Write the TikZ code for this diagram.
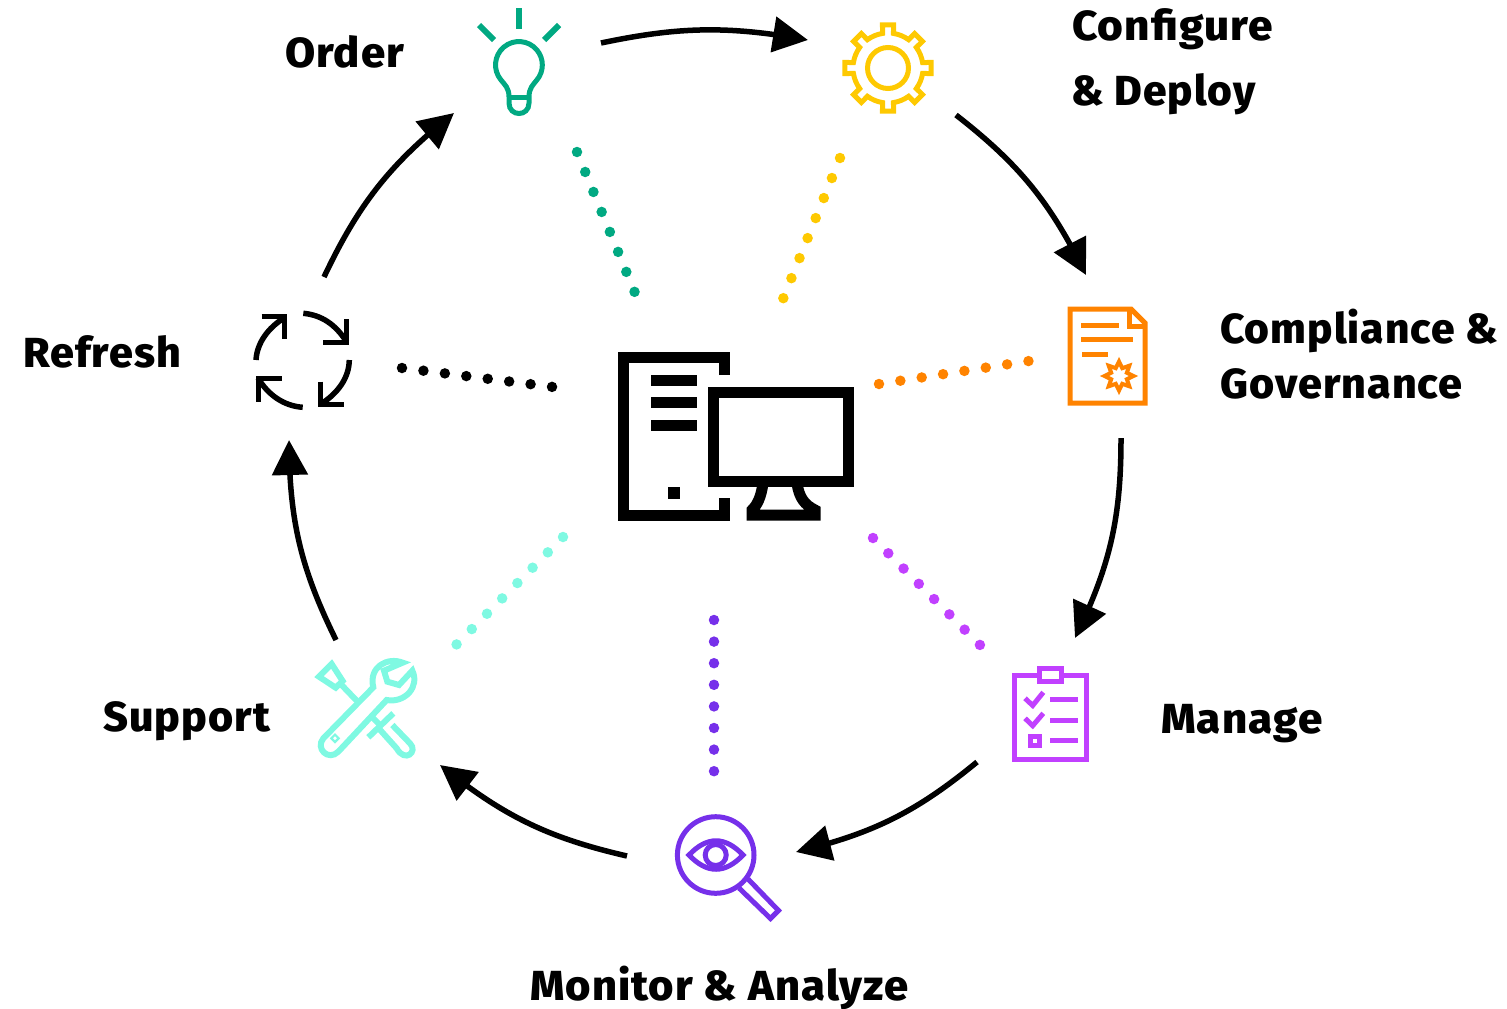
\documentclass[tikz,border=0pt]{standalone}
\usepackage{fontspec}
\setmainfont{Fira Sans}[BoldFont={Fira Sans ExtraBold},BoldFeatures={LetterSpace=2.5}]
\usetikzlibrary{arrows.meta,bending}
\definecolor{cteal}{HTML}{01A982}
\definecolor{cyellow}{HTML}{FEC901}
\definecolor{corange}{HTML}{FF8300}
\definecolor{cmagenta}{HTML}{C140FF}
\definecolor{cpurple}{HTML}{7630EA}
\definecolor{caqua}{HTML}{7FF9E2}
\tikzset{
  cyclearrow/.style={line width=5.5pt,-{Triangle[length=35pt,width=35pt,flex]}},
  dots/.style={line width=10.5pt,line cap=round,dash pattern=on 0pt off 21.6pt},
  lab/.style={font=\fontsize{42}{55}\selectfont\bfseries,inner sep=0pt,text=black,anchor=base west,transform shape,xscale=#1},
  ico/.style={line width=5pt,miter limit=10},
}
\begin{document}
\begin{tikzpicture}[x=1pt,y=-1pt]
\useasboundingbox (0,0) rectangle (1507,1009);
% labels
\node[lab=1.04] (order) at (285,67) {Order};
\node[lab=1.05] (conf1) at (1072,40) {Configure};
\node[lab=1.01] (conf2) at (1071,105) {\& Deploy};
\node[lab=1.012] (comp1) at (1220,343) {Compliance \&};
\node[lab=1.025] (comp2) at (1220,398) {Governance};
\node[lab=1.045] (manage) at (1161,733) {Manage};
\node[lab=1.035] (monitor) at (530,1000) {Monitor \& Analyze};
\node[lab=1.025] (support) at (103,731) {Support};
\node[lab=1.025] (refresh) at (23,367) {Refresh};
% arrow ends
\coordinate (a1s) at (601,43);  \coordinate (a1e) at (808,40);
\coordinate (a2s) at (956,115); \coordinate (a2e) at (1086,275);
\coordinate (a3s) at (1121,438);\coordinate (a3e) at (1075,638);
\coordinate (a4s) at (977,762); \coordinate (a4e) at (796,852);
\coordinate (a5s) at (627,856); \coordinate (a5e) at (440,765);
\coordinate (a6s) at (336,640); \coordinate (a6e) at (289,440);
\coordinate (a7s) at (324,277); \coordinate (a7e) at (454,113);
\draw[cyclearrow] (a1s) to[bend left=11] (a1e);
\draw[cyclearrow] (a2s) to[bend left=13] (a2e);
\draw[cyclearrow] (a3s) to[bend left=13] (a3e);
\draw[cyclearrow] (a4s) to[bend left=13] (a4e);
\draw[cyclearrow] (a5s) to[bend left=13] (a5e);
\draw[cyclearrow] (a6s) to[bend left=13] (a6e);
\draw[cyclearrow] (a7s) to[bend left=13] (a7e);
% dotted rays
\coordinate (d1a) at (577,152); \coordinate (d1b) at (635,293);
\coordinate (d2a) at (840,158); \coordinate (d2b) at (783,299);
\coordinate (d3a) at (879,384); \coordinate (d3b) at (1029,361);
\coordinate (d4a) at (873,538); \coordinate (d4b) at (981,646);
\coordinate (d5a) at (714,620); \coordinate (d5b) at (714,772);
\coordinate (d6a) at (563,537); \coordinate (d6b) at (456,645);
\coordinate (d7a) at (402,368); \coordinate (d7b) at (553,387);
\draw[dots,cteal] (d1a) -- (d1b);
\draw[dots,cyellow] (d2a) -- (d2b);
\draw[dots,corange] (d3a) -- (d3b);
\draw[dots,cmagenta] (d4a) -- (d4b);
\draw[dots,cpurple] (d5a) -- (d5b);
\draw[dots,caqua] (d6a) -- (d6b);
\draw[dots,black] (d7a) -- (d7b);
% bulb
\begin{scope}[ico,cteal]
\draw[line width=6pt] (519,8) -- (519,29);
\draw[line width=6pt] (479,25) -- (494,40);
\draw[line width=6pt] (559,25) -- (544,40);
\draw (509,97) .. controls (509,88) and (505,85) .. (501,80)
  arc[start angle=140,end angle=400,radius=23.4]
  .. controls (533,85) and (529,88) .. (529,97) -- (529,103)
  .. controls (529,117) and (509,117) .. (509,103) -- cycle;
\draw (509,97) -- (529,97);
\end{scope}
% gear
\begin{scope}[ico,cyellow,shift={(888,68)}]
\draw (0,0) circle[radius=20.5];
\draw (-9:35) \foreach \a in {0,45,...,315}{
   -- (\a-7.3:43.5) -- (\a+7.3:43.5) -- (\a+9:35)
   arc[start angle=\a+9,end angle=\a+36,radius=35] } -- cycle;
\end{scope}
% document
\begin{scope}[ico,corange]
\draw (1070,309) -- (1131,309) -- (1145,323) -- (1145,403) -- (1070,403) -- cycle;
\draw (1129.5,309) -- (1129.5,326) -- (1145,326);
\draw (1081,325.5) -- (1119,325.5);
\draw (1081,339.7) -- (1133,339.7);
\draw (1082,354.3) -- (1108,354.3);
\draw[line width=4pt,shift={(1119,376)}] (0:14.5)
  \foreach \a in {22.5,45,...,337.5}{ -- (\a:{mod(round(\a/22.5),2)==1 ? 8.5 : 14.5}) } -- cycle;
\end{scope}
% clipboard
\begin{scope}[ico,cmagenta]
\draw (1014.5,675) rectangle (1086.5,759);
\draw[fill=white] (1039.5,668) rectangle (1061.5,681);
\draw (1025,698.3) -- (1032.7,705.5) -- (1043.3,692.3);
\draw (1025,718.3) -- (1032.7,725.7) -- (1043.3,713.3);
\draw (1050,699.3) -- (1078,699.3);
\draw (1050,720.3) -- (1078,720.3);
\draw (1050,740.3) -- (1078,740.3);
\draw (1030,736.5) rectangle (1039,745.5);
\end{scope}
% magnifier
\begin{scope}[ico,cpurple]
\draw (715.7,855) circle[radius=38.3];
\draw (689,855) .. controls (707,836) and (725,836) .. (743,855)
  .. controls (725,874) and (707,874) .. (689,855) -- cycle;
\draw (715.7,855) circle[radius=10.5];
\draw (748,879) -- (778.5,910.5) -- (770.5,918.5) -- (739,888);
\end{scope}
% tools
\begin{scope}[ico,line width=6pt,caqua,shift={(305,650)},x=0.3333pt,y=-0.3333pt]
\draw (293,38) .. controls (248,20) and (190,50) .. (205,112)
  -- (55,265) .. controls (30,295) and (70,335) .. (100,305)
  -- (245,150) .. controls (300,160) and (345,110) .. (322,62)
  -- (282,105) -- (247,95) -- (237,62) -- cycle;
\draw[line width=2.2pt] (90,254) -- (101,265) -- (90,276) -- (79,265) -- cycle;
\draw (80,42) -- (113,93) -- (92,113) -- (42,80) -- cycle;
\draw (108,103) -- (155,152);
\draw (200,200) -- (228,228);
\draw (190,262) -- (265,190);
\draw (222,236) -- (275,295) .. controls (300,340) and (340,305) .. (315,280) -- (262,225);
\end{scope}
% refresh
\begin{scope}[ico,line width=5.5pt,black]
\draw (256,360) .. controls (257,343) and (268,328) .. (284,318);
\draw (261.7,316.7) -- (284.3,316.7) -- (284.3,339.3);
\draw (303.3,313.3) .. controls (322,315) and (336,325) .. (346.7,342);
\draw (323.3,342.3) -- (346.7,342.3) -- (346.7,319.3);
\draw (349.3,360) .. controls (349,378) and (338,393) .. (321,404);
\draw (320.7,381.7) -- (320.7,404.3) -- (344,404.3);
\draw (302.7,407.3) .. controls (284,406) and (268,395) .. (258,378);
\draw (258.3,401.7) -- (258.3,378.3) -- (282.3,378.3);
\end{scope}
% computer
\begin{scope}[line width=11pt,black]
\draw (724.3,375) -- (724.3,357) -- (623,357) -- (623,515) -- (724.3,515) -- (724.3,498.3);
\draw (651,380.7) -- (697,380.7);
\draw (651,402.7) -- (697,402.7);
\draw (651,425.7) -- (697,425.7);
\fill (668,486.7) rectangle (680,499);
\draw (713,392) rectangle (848.7,481.3);
\draw (763,483) .. controls (761,498) and (757,505) .. (752,510) -- (752,515) -- (815,515) -- (815,510)
  .. controls (805,505) and (799,498) .. (797,483);
\end{scope}
\end{tikzpicture}
\end{document}
